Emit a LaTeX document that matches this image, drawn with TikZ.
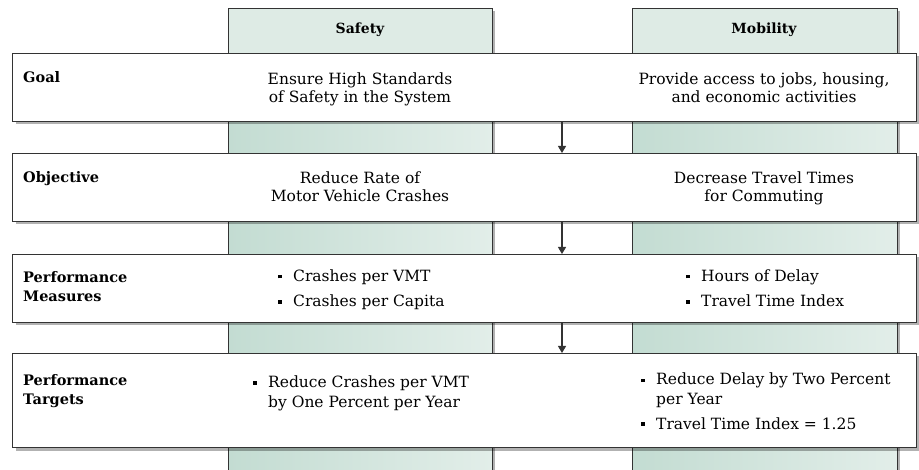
\documentclass[tikz,border=0pt]{standalone}
\usepackage{fontspec}
\setmainfont{DejaVu Serif}
\usetikzlibrary{shadows,arrows.meta}
\definecolor{hdr}{HTML}{DEEBE5}
\definecolor{gl}{HTML}{C3DCD2}
\definecolor{gr}{HTML}{E2EEE9}
\definecolor{edge}{HTML}{333333}
\newcommand{\bul}{\makebox[15pt][l]{\rule[3pt]{3.5pt}{3.5pt}}}
\newcommand{\bind}{\hspace*{15pt}}
\tikzset{
  colbox/.style={left color=gl, right color=gr,
    inner sep=0pt, anchor=north west,
    drop shadow={shadow xshift=3pt, shadow yshift=-2pt, opacity=0.3, fill=black}},
  coledge/.style={draw=edge, line width=1pt},
  rowbox/.style={draw=edge, line width=1pt, fill=white, minimum width=904pt,
    inner sep=0pt, anchor=north west,
    drop shadow={shadow xshift=3pt, shadow yshift=-3pt, opacity=0.3, fill=black}},
  lbl/.style={font=\fontsize{14.5}{19.5}\selectfont\bfseries, anchor=base west, align=left, inner sep=0pt},
  hd/.style={font=\fontsize{14}{19}\selectfont\bfseries, inner sep=0pt},
  txt/.style={font=\fontsize{15.5}{18.5}\selectfont, align=center, anchor=base, inner sep=0pt},
  blist/.style={font=\fontsize{15.5}{19.5}\selectfont, align=left, anchor=base west, inner sep=0pt},
  flow/.style={draw=edge, line width=1.1pt, -{Triangle[length=7pt,width=8pt]}}
}
\begin{document}
\begin{tikzpicture}[x=1pt,y=-1pt]
\path[use as bounding box, clip] (0,0) rectangle (919,470);
% columns
\node[colbox, minimum width=264pt, minimum height=480pt] (safety) at (228,9) {};
\node[colbox, minimum width=265pt, minimum height=480pt] (mobility) at (632,9) {};
\coordinate (hb) at (0,53);
\fill[hdr] (safety.north west) rectangle (safety.east |- hb);
\fill[hdr] (mobility.north west) rectangle (mobility.east |- hb);
\draw[coledge] (safety.north west) rectangle (safety.south east);
\draw[coledge] (mobility.north west) rectangle (mobility.south east);
\node[hd] (hsafety) at (360,30) {Safety};
\node[hd] (hmobility) at (764,30) {Mobility};
% row boxes
\node[rowbox, minimum height=68pt] (goal) at (12,53) {};
\node[rowbox, minimum height=68pt] (objective) at (12,153) {};
\node[rowbox, minimum height=68pt] (measures) at (12,254) {};
\node[rowbox, minimum height=94pt] (targets) at (12,353) {};
% arrows
\coordinate (ax) at (562,0);
\draw[flow] (goal.south -| ax) -- (objective.north -| ax);
\draw[flow] (objective.south -| ax) -- (measures.north -| ax);
\draw[flow] (measures.south -| ax) -- (targets.north -| ax);
% labels
\node[lbl] (lgoal) at (23,83) {Goal};
\node[lbl] (lobjective) at (23,183) {Objective};
\node[lbl] (lmeasures) at (23,302) {Performance\\Measures};
\node[lbl] (ltargets) at (23,405) {Performance\\Targets};
% texts
\node[txt] (sgoal) at (360,103) {Ensure High Standards\\of Safety in the System};
\node[txt] (mgoal) at (764,103) {Provide access to jobs, housing,\\and economic activities};
\node[txt] (sobj) at (360,202) {Reduce Rate of\\Motor Vehicle Crashes};
\node[txt] (mobj) at (764,202) {Decrease Travel Times\\for Commuting};
\node[blist] (smeas) at (278,307) {\bul Crashes per VMT\\[6pt]\bul Crashes per Capita};
\node[blist] (mmeas) at (686,307) {\bul Hours of Delay\\[6pt]\bul Travel Time Index};
\node[blist] (stgt) at (253,407) {\bul Reduce Crashes per VMT\\\bind by One Percent per Year};
\node[blist] (mtgt) at (641,429) {\bul Reduce Delay by Two Percent\\\bind per Year\\[5pt]\bul Travel Time Index = 1.25};
\end{tikzpicture}
\end{document}
